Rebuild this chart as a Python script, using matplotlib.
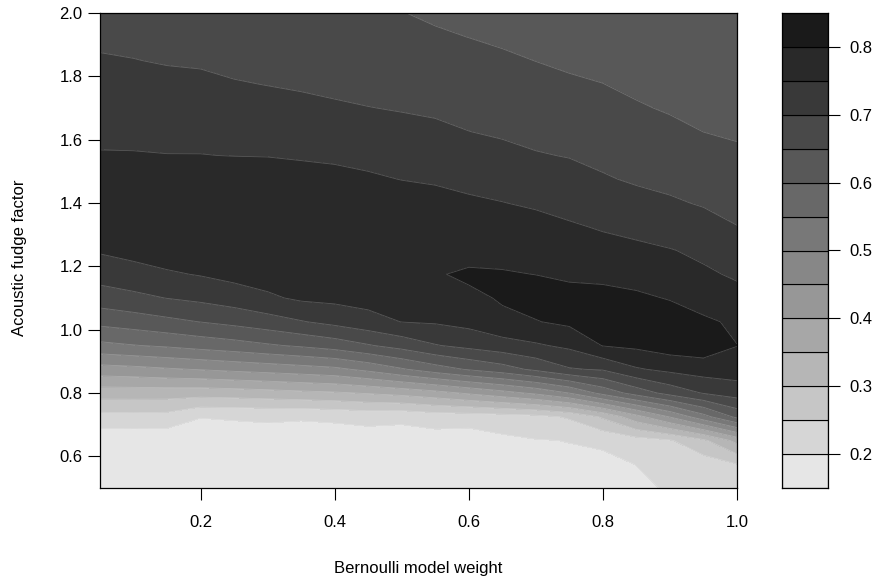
import numpy as np
import matplotlib
matplotlib.use("Agg")
import matplotlib.pyplot as plt

plt.rcParams['font.family'] = ['Liberation Sans', 'DejaVu Sans']

# Grid of the parameter sweep
bernoulli_weight = [0.05, 0.10, 0.15, 0.20, 0.25, 0.30, 0.35, 0.40, 0.45, 0.50,
                    0.55, 0.60, 0.65, 0.70, 0.75, 0.80, 0.85, 0.90, 0.95, 1.00]
fudge_factor = [0.5, 0.575, 0.65, 0.725, 0.8, 0.875, 0.95, 1.025, 1.1, 1.175, 1.25,
                1.325, 1.4, 1.475, 1.55, 1.625, 1.7, 1.775, 1.85, 1.925, 2.0]

# Score for each Bernoulli weight, listed from the lowest fudge factor upward
score_w005 = [0.163, 0.165, 0.165, 0.233, 0.323, 0.43, 0.538, 0.614, 0.676, 0.72, 0.755, 0.772, 0.78, 0.776, 0.754, 0.737, 0.726, 0.716, 0.704, 0.692, 0.682]
score_w010 = [0.164, 0.165, 0.166, 0.235, 0.323, 0.436, 0.548, 0.625, 0.688, 0.731, 0.766, 0.78, 0.785, 0.778, 0.753, 0.738, 0.725, 0.713, 0.701, 0.69, 0.68]
score_w015 = [0.164, 0.165, 0.166, 0.233, 0.323, 0.445, 0.557, 0.638, 0.701, 0.744, 0.775, 0.787, 0.79, 0.78, 0.751, 0.738, 0.725, 0.711, 0.697, 0.686, 0.675]
score_w020 = [0.17, 0.175, 0.185, 0.201, 0.321, 0.453, 0.569, 0.651, 0.711, 0.753, 0.78, 0.79, 0.792, 0.78, 0.751, 0.737, 0.723, 0.709, 0.695, 0.683, 0.672]
score_w025 = [0.172, 0.178, 0.185, 0.203, 0.325, 0.462, 0.58, 0.664, 0.724, 0.765, 0.785, 0.795, 0.795, 0.782, 0.749, 0.734, 0.719, 0.703, 0.689, 0.677, 0.667]
score_w030 = [0.173, 0.179, 0.186, 0.205, 0.331, 0.47, 0.594, 0.679, 0.742, 0.772, 0.79, 0.797, 0.795, 0.78, 0.748, 0.73, 0.715, 0.699, 0.686, 0.674, 0.664]
score_w035 = [0.175, 0.18, 0.186, 0.203, 0.338, 0.479, 0.607, 0.697, 0.758, 0.778, 0.792, 0.798, 0.793, 0.772, 0.744, 0.727, 0.711, 0.695, 0.682, 0.671, 0.661]
score_w040 = [0.172, 0.175, 0.178, 0.208, 0.344, 0.489, 0.623, 0.714, 0.762, 0.782, 0.793, 0.797, 0.788, 0.765, 0.741, 0.723, 0.706, 0.69, 0.678, 0.667, 0.657]
score_w045 = [0.172, 0.175, 0.178, 0.215, 0.354, 0.513, 0.646, 0.732, 0.768, 0.785, 0.793, 0.795, 0.782, 0.757, 0.736, 0.718, 0.701, 0.686, 0.674, 0.663, 0.653]
score_w050 = [0.174, 0.177, 0.18, 0.21, 0.366, 0.545, 0.669, 0.751, 0.772, 0.785, 0.792, 0.79, 0.774, 0.749, 0.731, 0.714, 0.697, 0.685, 0.672, 0.661, 0.651]
score_w055 = [0.175, 0.177, 0.18, 0.222, 0.383, 0.577, 0.697, 0.755, 0.778, 0.795, 0.792, 0.783, 0.765, 0.745, 0.727, 0.709, 0.693, 0.68, 0.668, 0.655, 0.644]
score_w060 = [0.176, 0.175, 0.175, 0.223, 0.407, 0.605, 0.714, 0.765, 0.788, 0.81, 0.776, 0.77, 0.757, 0.738, 0.72, 0.7005, 0.686, 0.673, 0.662, 0.6495, 0.64]
score_w065 = [0.18, 0.183, 0.19, 0.228, 0.432, 0.629, 0.729, 0.789, 0.805, 0.803, 0.788, 0.768, 0.751, 0.733, 0.713, 0.694, 0.681, 0.669, 0.656, 0.644, 0.635]
score_w070 = [0.185, 0.19, 0.198, 0.235, 0.46, 0.661, 0.744, 0.798, 0.818, 0.7995, 0.785, 0.765, 0.744, 0.726, 0.703, 0.688, 0.675, 0.662, 0.6495, 0.639, 0.63]
score_w075 = [0.188, 0.192, 0.201, 0.256, 0.501, 0.696, 0.76, 0.81, 0.82, 0.79, 0.775, 0.755, 0.735, 0.716, 0.698, 0.684, 0.67, 0.656, 0.643, 0.633, 0.625]
score_w080 = [0.187, 0.186, 0.21, 0.307, 0.566, 0.705, 0.802, 0.83, 0.825, 0.781, 0.765, 0.746, 0.726, 0.704, 0.69, 0.676, 0.662, 0.6505, 0.639, 0.629, 0.62]
score_w085 = [0.19, 0.201, 0.228, 0.383, 0.621, 0.745, 0.81, 0.835, 0.812, 0.774, 0.757, 0.741, 0.714, 0.695, 0.682, 0.668, 0.654, 0.642, 0.632, 0.623, 0.615]
score_w090 = [0.205, 0.215, 0.245, 0.453, 0.668, 0.762, 0.825, 0.835, 0.796, 0.78, 0.752, 0.73, 0.706, 0.688, 0.675, 0.66, 0.646, 0.635, 0.626, 0.618, 0.61]
score_w095 = [0.215, 0.225, 0.29, 0.532, 0.703, 0.773, 0.83, 0.815, 0.761, 0.756, 0.742, 0.718, 0.696, 0.681, 0.665, 0.6498, 0.638, 0.628, 0.62, 0.612, 0.605]
score_w100 = [0.22, 0.249, 0.366, 0.612, 0.723, 0.775, 0.801, 0.785, 0.762, 0.745, 0.72, 0.701, 0.685, 0.672, 0.657, 0.645, 0.634, 0.624, 0.616, 0.609, 0.602]

score_columns = [score_w005, score_w010, score_w015, score_w020, score_w025,
                 score_w030, score_w035, score_w040, score_w045, score_w050,
                 score_w055, score_w060, score_w065, score_w070, score_w075,
                 score_w080, score_w085, score_w090, score_w095, score_w100]

levels = [0.15, 0.20, 0.25, 0.30, 0.35, 0.40, 0.45, 0.50,
          0.55, 0.60, 0.65, 0.70, 0.75, 0.80, 0.85]
x_ticks = [0.2, 0.4, 0.6, 0.8, 1.0]
y_ticks = [0.6, 0.8, 1.0, 1.2, 1.4, 1.6, 1.8, 2.0]
key_ticks = [0.2, 0.3, 0.4, 0.5, 0.6, 0.7, 0.8]

# grey ramp: light for low scores, dark for high scores
n_bands = len(levels) - 1
band_colors = [str(round(g, 4)) for g in np.linspace(0.9, 0.1, n_bands)]

W = 885
H = 586
fig = plt.figure(figsize=(W / 100, H / 100), dpi=100)

# main panel
ax = fig.add_axes([100 / W, (H - 488) / H, 637 / W, 475 / H])
Z = np.array(score_columns).T
ax.contourf(bernoulli_weight, fudge_factor, Z, levels=levels, colors=band_colors)
ax.contour(bernoulli_weight, fudge_factor, Z, levels=levels,
           colors='white', linewidths=0.6, alpha=0.22)
ax.set_xlim(0.05, 1.0)
ax.set_ylim(0.5, 2.0)
ax.set_xticks(x_ticks)
ax.set_xticklabels([f"{t:.1f}" for t in x_ticks])
ax.set_yticks(y_ticks)
ax.set_yticklabels([f"{t:.1f}" for t in y_ticks])
ax.tick_params(axis='both', direction='out', length=8.5, width=0.8,
               labelsize=12, colors='black')
ax.tick_params(axis='x', pad=11)
ax.tick_params(axis='y', pad=4)
for sp in ax.spines.values():
    sp.set_linewidth(0.9)
fig.text((100 + 737) / 2 / W, 1 - 568 / H, 'Bernoulli model weight',
         ha='center', va='center', fontsize=12)
fig.text(20 / W, 1 - 258 / H, 'Acoustic fudge factor',
         ha='center', va='center', rotation=90, fontsize=12)

# key
cax = fig.add_axes([782 / W, (H - 488) / H, 46 / W, 475 / H])
for i in range(n_bands):
    cax.fill_between([0, 1], levels[i], levels[i + 1], color=band_colors[i],
                     edgecolor='black', linewidth=0.8)
cax.set_xlim(0, 1)
cax.set_ylim(levels[0], levels[-1])
cax.set_xticks([])
cax.yaxis.tick_right()
cax.set_yticks(key_ticks)
cax.set_yticklabels([f"{t:.1f}" for t in key_ticks])
cax.tick_params(axis='y', direction='out', length=8.5, width=0.8,
                labelsize=12, pad=7)
for sp in cax.spines.values():
    sp.set_linewidth(0.9)

fig.savefig('out.png', dpi=100)
